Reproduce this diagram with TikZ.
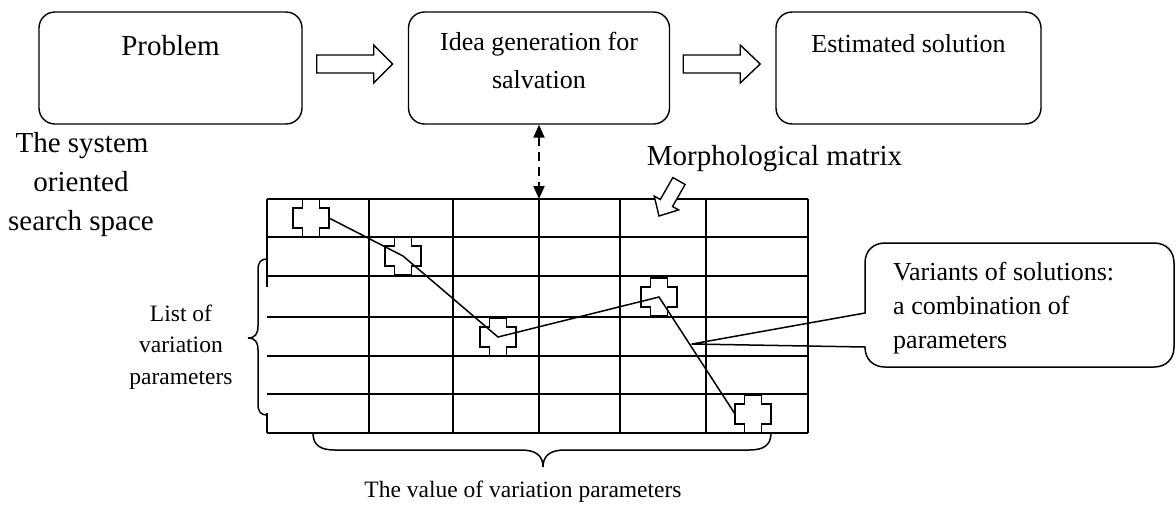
\documentclass[tikz,border=0pt]{standalone}
\usepackage{fontspec}
\setmainfont{Liberation Serif}
\usetikzlibrary{calc,arrows.meta}
\begin{document}
\begin{tikzpicture}[x=1pt,y=-1pt,
  box/.style={draw, line width=1.4pt, rounded corners=16pt, inner sep=0pt},
  blockarrow/.style={draw, line width=1.4pt, fill=white, line join=miter},
  gridline/.style={line width=1.8pt},
  thin line/.style={line width=1.5pt},
  bigtxt/.style={font=\fontsize{29}{35}\selectfont, inner sep=0pt},
  midtxt/.style={font=\fontsize{26}{31}\selectfont, inner sep=0pt},
  smalltxt/.style={font=\fontsize{23.5}{28}\selectfont, inner sep=0pt},
  dasharrow/.style={line width=2pt, dash pattern=on 9pt off 6pt,
    {Triangle[length=13pt,width=11pt]}-{Triangle[length=13pt,width=11pt]}},
  cross/.pic={\draw[line width=1.4pt, fill=white]
    (-18,-10) -- (-8.5,-10) -- (-8.5,-19) -- (8.5,-19) -- (8.5,-10) -- (18,-10)
    -- (18,10) -- (8.5,10) -- (8.5,19) -- (-8.5,19) -- (-8.5,10) -- (-18,10) -- cycle;}
]
\useasboundingbox (0,0) rectangle (1176,504);

% top row of process boxes
\node[box, minimum width=263pt, minimum height=112pt] (problem) at (170.5,68) {};
\node[box, minimum width=261pt, minimum height=112pt] (idea) at (539,68) {};
\node[box, minimum width=265pt, minimum height=112pt] (est) at (908.5,68) {};

\node[bigtxt, anchor=base] (problemtxt) at (problem.center |- 0,55) {Problem};
\node[midtxt, anchor=base] (ideatxta) at (idea.center |- 0,50) {Idea generation for};
\node[midtxt, anchor=base] (ideatxtb) at (idea.center |- 0,88) {salvation};
\node[midtxt, anchor=base] (esttxt) at (est.center |- 0,52) {Estimated solution};

% hollow block arrows between the boxes
\draw[blockarrow] ($(problem.east)+(14,-13)$) -- ++(57,0) -- ++(0,-10) -- ++(19,19)
  -- ++(-19,19) -- ++(0,-10) -- ++(-57,0) -- cycle;
\draw[blockarrow] ($(idea.east)+(13,-13)$) -- ++(57,0) -- ++(0,-10) -- ++(20,19)
  -- ++(-20,19) -- ++(0,-10) -- ++(-57,0) -- cycle;

% side labels
\node[bigtxt, anchor=base] (sys1) at (82,152) {The system};
\node[bigtxt, anchor=base] (sys2) at (81,191) {oriented};
\node[bigtxt, anchor=base] (sys3) at (81,230) {search space};

\node[bigtxt, anchor=base] (morph) at (774.5,165) {Morphological matrix};

% morphological matrix grid
\coordinate (gtop) at (539,199);
\foreach \y in {199,237,276,317,356,394,433}
  \draw[gridline] (267,\y) -- (808,\y);
\foreach \x in {369,453,539,620,706,808}
  \draw[gridline] (\x,199) -- (\x,433);
\draw[gridline] (267,199) -- (267,287);
\draw[gridline] (267,413) -- (267,433);

% link between idea generation and the matrix
\draw[dasharrow] (idea.south) -- (gtop);

% small arrow pointing at the matrix
\draw[blockarrow] (685.1,184.5) -- (672.5,206.5) -- (678.6,209.9) -- (659,216)
  -- (654.2,196.1) -- (660.3,199.5) -- (672.9,177.5) -- cycle;

% chosen cells
\pic at (311,218) {cross}; \coordinate (c1) at (311,218);
\pic at (403,256) {cross}; \coordinate (c2) at (403,256);
\pic at (498,337) {cross}; \coordinate (c3) at (498,337);
\pic at (659,297) {cross}; \coordinate (c4) at (659,297);
\pic at (753,414) {cross}; \coordinate (c5) at (753,414);
\draw[thin line] ($(c1)+(18,0)$) -- (c2) -- (c3) -- (c4) -- ($(c5)+(-18,0)$);

% callout
\coordinate (tip) at (692,344);
\draw[line width=1.5pt, line join=round] (865,313) -- (865,263)
  .. controls (865,251) and (873,243) .. (885,243) -- (1154,243)
  .. controls (1166,243) and (1174,251) .. (1174,263) -- (1174,347)
  .. controls (1174,359) and (1166,367) .. (1154,367) -- (885,367)
  .. controls (873,367) and (865,359) .. (865,347) -- (tip) -- cycle;
\node[midtxt, anchor=base west] (call1) at (893,280) {Variants of solutions:};
\node[midtxt, anchor=base west] (call2) at (893,314) {a combination of};
\node[midtxt, anchor=base west] (call3) at (893,348) {parameters};

% braces
\draw[thin line] (267,259) .. controls (261,259) and (258,262) .. (258,270) -- (258,326)
  .. controls (258,334) and (255,338) .. (248,338)
  .. controls (255,338) and (258,342) .. (258,350) -- (258,404)
  .. controls (258,412) and (261,415) .. (267,415);
\node[smalltxt, anchor=base] (list1) at (181,321) {List of};
\node[smalltxt, anchor=base] (list2) at (181,352) {variation};
\node[smalltxt, anchor=base] (list3) at (181,384) {parameters};

\draw[thin line] (313,433) .. controls (313,445) and (320,450) .. (335,450) -- (521,450)
  .. controls (535,450) and (543,455) .. (543,467)
  .. controls (543,455) and (551,450) .. (565,450) -- (749,450)
  .. controls (764,450) and (771,445) .. (771,433);
\node[smalltxt, anchor=base] (valtxt) at (523,497) {The value of variation parameters};
\end{tikzpicture}
\end{document}
